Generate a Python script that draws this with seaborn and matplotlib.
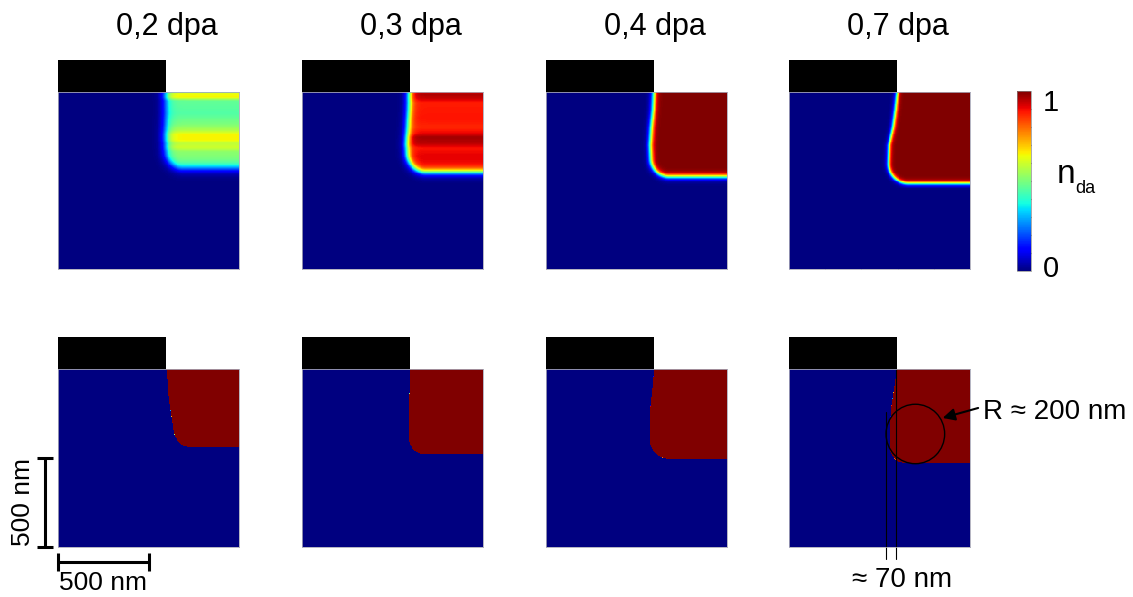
import numpy as np
import pandas as pd
import matplotlib
matplotlib.use("Agg")
import matplotlib.pyplot as plt
import seaborn as sns
from matplotlib.patches import Rectangle, Ellipse

# ---------------- data (nm) ----------------
dpa_labels = ["0,2 dpa", "0,3 dpa", "0,4 dpa", "0,7 dpa"]

edge_depth_nm = [0, 100, 200, 300, 400]          # depths where the lateral front is read
top_edge_02 = [595, 594, 594, 596, 600]
top_edge_03 = [593, 590, 584, 578, 585]
top_edge_04 = [596, 592, 582, 576, 580]
top_edge_07 = [598, 588, 575, 553, 550]
bot_edge_02 = [597, 607, 618, 632, 645]
bot_edge_03 = [597, 594, 590, 588, 590]
bot_edge_04 = [596, 588, 578, 573, 575]
bot_edge_07 = [594, 582, 568, 560, 560]

top_front_depth = [430, 452, 478, 516]           # depth of lower front
bot_front_depth = [440, 476, 503, 530]
top_corner_r = [90, 100, 100, 110]
bot_corner_r = [90, 85, 100, 85]
top_front_width = [15, 12, 9, 7]
bot_front_width = [0.05, 0.05, 0.05, 0.05]

# interior n_da level vs depth (banded profiles)
level_depth_02 = [0, 8, 30, 50, 120, 180, 215, 240, 270, 290, 310, 340, 400, 600]
level_02 = [0.42, 0.64, 0.65, 0.47, 0.45, 0.50, 0.56, 0.65, 0.65, 0.58, 0.60, 0.52, 0.50, 0.50]
level_depth_03 = [0, 10, 35, 60, 150, 200, 235, 255, 290, 315, 360, 600]
level_03 = [0.90, 0.96, 0.94, 0.88, 0.89, 0.87, 0.91, 0.97, 0.95, 0.89, 0.91, 0.91]
level_depth_full = [0, 1000]
level_full = [1.0, 1.0]

mask_width_nm = 595
mask_height_nm = 180
domain_nm = 1000.0
N = 200
k = N / domain_nm

# ---------------- helpers ----------------
cell = (np.arange(N) + 0.5) * domain_nm / N


def build_field(edge_x, front_depth, radius, width, lev_d, lev_v):
    D, X = np.meshgrid(cell, cell, indexing="ij")
    edge = np.interp(D, edge_depth_nm, edge_x)
    s1 = X - edge
    s2 = front_depth - D
    q1 = radius - s1
    q2 = radius - s2
    sdf = (np.hypot(np.maximum(q1, 0), np.maximum(q2, 0))
           + np.minimum(np.maximum(q1, q2), 0) - radius)
    frac = 1.0 / (1.0 + np.exp(np.clip(sdf / width, -60, 60)))
    lvl = np.interp(D, lev_d, lev_v)
    return pd.DataFrame(lvl * frac, index=np.round(cell, 1), columns=np.round(cell, 1))


top_edges = [top_edge_02, top_edge_03, top_edge_04, top_edge_07]
bot_edges = [bot_edge_02, bot_edge_03, bot_edge_04, bot_edge_07]
top_levels = [(level_depth_02, level_02), (level_depth_03, level_03),
              (level_depth_full, level_full), (level_depth_full, level_full)]

# ---------------- figure ----------------
sns.set_theme(style="white")
plt.rcParams["font.family"] = ["Liberation Sans", "DejaVu Sans"]
plt.rcParams["text.color"] = "black"

W, H = 1133, 597
fig = plt.figure(figsize=(W / 100, H / 100), dpi=100)

col_left_px = [58, 302, 546, 789]
panel_w_px = 181
top_row = (92, 269)
bot_row = (369, 547)


def px_axes(x0, y0, x1, y1):
    return fig.add_axes([x0 / W, 1 - y1 / H, (x1 - x0) / W, (y1 - y0) / H])


cax = px_axes(1017, 91, 1031, 271)

axes_top, axes_bot = [], []
for i in range(4):
    x0 = col_left_px[i]
    at = px_axes(x0, top_row[0], x0 + panel_w_px, top_row[1])
    ab = px_axes(x0, bot_row[0], x0 + panel_w_px, bot_row[1])
    axes_top.append(at)
    axes_bot.append(ab)

    ft = build_field(top_edges[i], top_front_depth[i], top_corner_r[i],
                     top_front_width[i], *top_levels[i])
    fb = build_field(bot_edges[i], bot_front_depth[i], bot_corner_r[i],
                     bot_front_width[i], level_depth_full, level_full)

    sns.heatmap(ft, ax=at, cmap="jet", vmin=0, vmax=1,
                cbar=(i == 0), cbar_ax=cax if i == 0 else None,
                xticklabels=False, yticklabels=False)
    sns.heatmap(fb, ax=ab, cmap="jet", vmin=0, vmax=1, cbar=False,
                xticklabels=False, yticklabels=False)

    for ax in (at, ab):
        ax.set_xlabel("")
        ax.set_ylabel("")
        for sp in ax.spines.values():
            sp.set_visible(True)
            sp.set_color("#a8a8b8")
            sp.set_linewidth(0.6)
        ax.add_patch(Rectangle((0, -mask_height_nm * k), mask_width_nm * k,
                               mask_height_nm * k, facecolor="black",
                               edgecolor="none", clip_on=False, zorder=5))

    at.text(0.6, 1.367, dpa_labels[i], transform=at.transAxes, ha="center",
            va="center", fontsize=22, color="black")

# tick marks inside the 0,7 dpa top panel
a4 = axes_top[3]
a4.set_xticks(np.arange(200, 1000, 200) * k)
a4.set_yticks(np.arange(100, 1000, 100) * k)
a4.tick_params(direction="in", length=3, width=0.6, color="#666",
               bottom=True, top=True, left=True, right=False,
               labelbottom=False, labelleft=False)

# colorbar styling
cb = axes_top[0].collections[0].colorbar
cb.outline.set_linewidth(0.5)
cb.outline.set_edgecolor("#888888")
cax.yaxis.set_ticks_position("right")
cax.set_yticks(np.arange(0.1, 1.0, 0.1))
cax.tick_params(axis="y", direction="in", length=3, width=0.8, color="#333",
                labelright=False, labelleft=False, right=True, left=False)
fig.text(1043 / W, 1 - 103 / H, "1", ha="left", va="center", fontsize=21)
fig.text(1043 / W, 1 - 269 / H, "0", ha="left", va="center", fontsize=21)
fig.text(1057 / W, 1 - 183 / H, "n", ha="left", va="baseline", fontsize=24)
fig.text(1075 / W, 1 - 193 / H, "da", ha="left", va="baseline", fontsize=13)

# scale bars on bottom-left panel
a5 = axes_bot[0]
a5.plot([0, 500 * k], [1084 * k, 1084 * k], color="black", lw=2.2,
        clip_on=False, solid_capstyle="butt")
a5.plot([0, 500 * k], [1084 * k, 1084 * k], ls="none", marker="|",
        ms=13, mew=2.2, color="black", clip_on=False)
a5.plot([-71 * k, -71 * k], [500 * k, 1000 * k], color="black", lw=2.2,
        clip_on=False, solid_capstyle="butt")
a5.plot([-71 * k, -71 * k], [500 * k, 1000 * k], ls="none", marker="_",
        ms=12, mew=2.2, color="black", clip_on=False)
a5.text(250 * k, 1202 * k, "500 nm", ha="center", va="center", fontsize=19)
a5.text(-192 * k, 750 * k, "500 nm", ha="center", va="center", fontsize=19,
        rotation=90)
a5.set_xlim(0, N)
a5.set_ylim(N, 0)

# annotations on bottom 0,7 dpa panel
a8 = axes_bot[3]
a8.add_patch(Ellipse((698 * k, 365 * k), 2 * 162 * k, 2 * 167 * k,
                     fill=False, edgecolor="black", lw=1.0, zorder=6))
a8.annotate("", xy=(849 * k, 275 * k), xytext=(1045 * k, 219 * k),
            arrowprops=dict(arrowstyle="-|>", color="black", lw=1.5,
                            mutation_scale=18, shrinkA=0, shrinkB=0),
            annotation_clip=False)
a8.text(1073 * k, 242 * k, "R \u2248 200 nm", ha="left", va="center",
        fontsize=20)
a8.plot([536 * k, 536 * k], [242 * k, 1067 * k], color="black", lw=0.8,
        clip_on=False)
a8.plot([592 * k, 592 * k], [0, 1067 * k], color="black", lw=0.8,
        clip_on=False)
a8.text(626 * k, 1185 * k, "\u2248 70 nm", ha="center", va="center",
        fontsize=20)
a8.set_xlim(0, N)
a8.set_ylim(N, 0)

fig.savefig("out.png", dpi=100)
